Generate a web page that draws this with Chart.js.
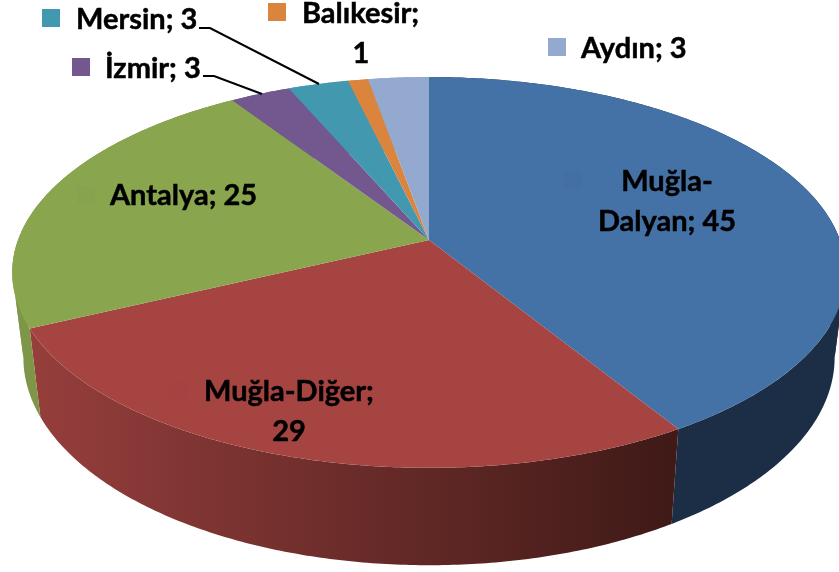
<!DOCTYPE html>
<html>
<head>
<meta charset="utf-8">
<title>Pie</title>
<script src="https://cdn.jsdelivr.net/npm/chart.js@4/dist/chart.umd.min.js"></script>
<style>
    html, body { margin: 0; padding: 0; background: #fff; }
    canvas { display: block; }
</style>
</head>
<body>
<canvas id="pieChart" width="839" height="572"></canvas>
<script>
const categories = ['Muğla-Dalyan', 'Muğla-Diğer', 'Antalya', 'İzmir', 'Mersin', 'Balıkesir', 'Aydın'];
const values = [45, 29, 25, 3, 3, 1, 3];
const topColors = ['#4471a6', '#a64442', '#89a54e', '#73588f', '#4198af', '#db843d', '#93a9cf'];
const wallLeftColors = ['#1b2e45', '#953e3c', '#7d9647', '#73588f', '#4198af', '#db843d', '#93a9cf'];
const wallRightColors = ['#1b2e45', '#3f1a17', '#6f8a3c', '#73588f', '#4198af', '#db843d', '#93a9cf'];

// label placement: lines of text, align, x, baselines, legend key
const labelLayout = [
    { lines: ['Muğla-', 'Dalyan; 45'], align: 'center', x: 667, y: [191, 231], key: [564, 171] },
    { lines: ['Muğla-Diğer;', '29'], align: 'center', x: 289, y: [401, 441], key: [170, 381] },
    { lines: ['Antalya; 25'], align: 'left', x: 110, y: [205], key: [77, 186] },
    { lines: ['İzmir; 3'], align: 'left', x: 105, y: [78], key: [72, 58] },
    { lines: ['Mersin; 3'], align: 'left', x: 76, y: [29], key: [42, 9] },
    { lines: ['Balıkesir;'], align: 'left', x: 302, y: [23], key: [268, 3] },
    { lines: ['Aydın; 3'], align: 'left', x: 581, y: [58], key: [548, 38] }
];
const extraLabels = [{ text: '1', x: 361, y: 63 }];
const leaderLines = [
    [[199, 28], [210, 28], [319, 84]],
    [[203, 76], [214, 76], [262, 94]]
];

// perspective of the disc: top face and the smaller bottom face
const topFace = { cx: 429, cy: 240, rx: 411, ry: 190, p: 0.166 };
const bottomFace = { cx: 429, cy: 323, rx: 400, ry: 202, p: 0.166 };

function project(face, angle) {
    const u = Math.cos(angle);
    const v = Math.sin(angle);
    const w = 1 - face.p * v;
    return [face.cx + face.rx * u / w, face.cy + face.ry * v / w];
}

function edgePoints(face, start, end) {
    const steps = Math.max(2, Math.ceil((end - start) / 0.01));
    const pts = [];
    for (let i = 0; i <= steps; i++) {
        pts.push(project(face, start + (end - start) * i / steps));
    }
    return pts;
}

function tracePath(ctx, pts) {
    ctx.beginPath();
    pts.forEach((p, i) => i ? ctx.lineTo(p[0], p[1]) : ctx.moveTo(p[0], p[1]));
}

function fillPath(ctx, pts, fill) {
    tracePath(ctx, pts);
    ctx.closePath();
    ctx.fillStyle = fill;
    ctx.fill();
}

// the wall turns over at the widest points of the disc, so split the arc there
function wallRanges(start, end) {
    const fold = Math.asin(topFace.p);
    const cuts = [fold - 2 * Math.PI, -Math.PI - fold, fold, Math.PI - fold, fold + 2 * Math.PI];
    const ranges = [];
    let from = start;
    cuts.forEach(c => {
        if (c > from && c < end) {
            ranges.push([from, c]);
            from = c;
        }
    });
    ranges.push([from, end]);
    return ranges;
}

const pie3d = {
    id: 'pie3d',
    // the arcs keep their angles from the library, only the drawing is replaced
    beforeDatasetsDraw(chart) {
        const ctx = chart.ctx;
        const arcs = chart.getDatasetMeta(0).data;
        ctx.save();

        // side walls
        arcs.forEach((arc, i) => {
            const grad = ctx.createLinearGradient(37, 0, 672, 0);
            grad.addColorStop(0, wallLeftColors[i]);
            grad.addColorStop(1, wallRightColors[i]);
            wallRanges(arc.startAngle, arc.endAngle).forEach(r => {
                const upper = edgePoints(topFace, r[0], r[1]);
                const lower = edgePoints(bottomFace, r[0], r[1]).reverse();
                fillPath(ctx, upper.concat(lower), grad);
            });
        });

        // top face
        arcs.forEach((arc, i) => {
            const pts = [[topFace.cx, topFace.cy]].concat(edgePoints(topFace, arc.startAngle, arc.endAngle));
            fillPath(ctx, pts, topColors[i]);
        });

        ctx.restore();
        return false;
    },
    // afterDatasetsDraw is skipped once the draw above is cancelled
    afterDraw(chart) {
        const ctx = chart.ctx;
        ctx.save();

        ctx.strokeStyle = '#000';
        ctx.lineWidth = 2;
        leaderLines.forEach(line => {
            tracePath(ctx, line);
            ctx.stroke();
        });

        ctx.font = 'bold 29px Lato';
        ctx.textBaseline = 'alphabetic';
        ctx.lineWidth = 0.5;
        const drawText = (text, x, y) => {
            ctx.fillText(text, x, y);
            ctx.strokeText(text, x, y);
        };
        labelLayout.forEach((label, i) => {
            ctx.fillStyle = topColors[i];
            ctx.fillRect(label.key[0], label.key[1], 18, 18);
            // keys inside a slice only just show against it
            if (i < 3) {
                ctx.fillStyle = 'rgba(0,0,0,0.01)';
                ctx.fillRect(label.key[0], label.key[1], 18, 18);
            }
            ctx.fillStyle = '#000';
            ctx.textAlign = label.align;
            label.lines.forEach((text, j) => drawText(text, label.x, label.y[j]));
        });
        ctx.textAlign = 'center';
        extraLabels.forEach(label => drawText(label.text, label.x, label.y));

        ctx.restore();
    }
};

document.addEventListener('DOMContentLoaded', function() {
    const pieCtx = document.getElementById('pieChart').getContext('2d');
    new Chart(pieCtx, {
        type: 'pie',
        data: {
            labels: categories,
            datasets: [{
                data: values,
                backgroundColor: topColors,
                borderWidth: 0
            }]
        },
        options: {
            responsive: false,
            animation: false,
            plugins: {
                legend: { display: false },
                tooltip: { enabled: false }
            }
        },
        plugins: [pie3d]
    });
});
</script>
</body>
</html>
